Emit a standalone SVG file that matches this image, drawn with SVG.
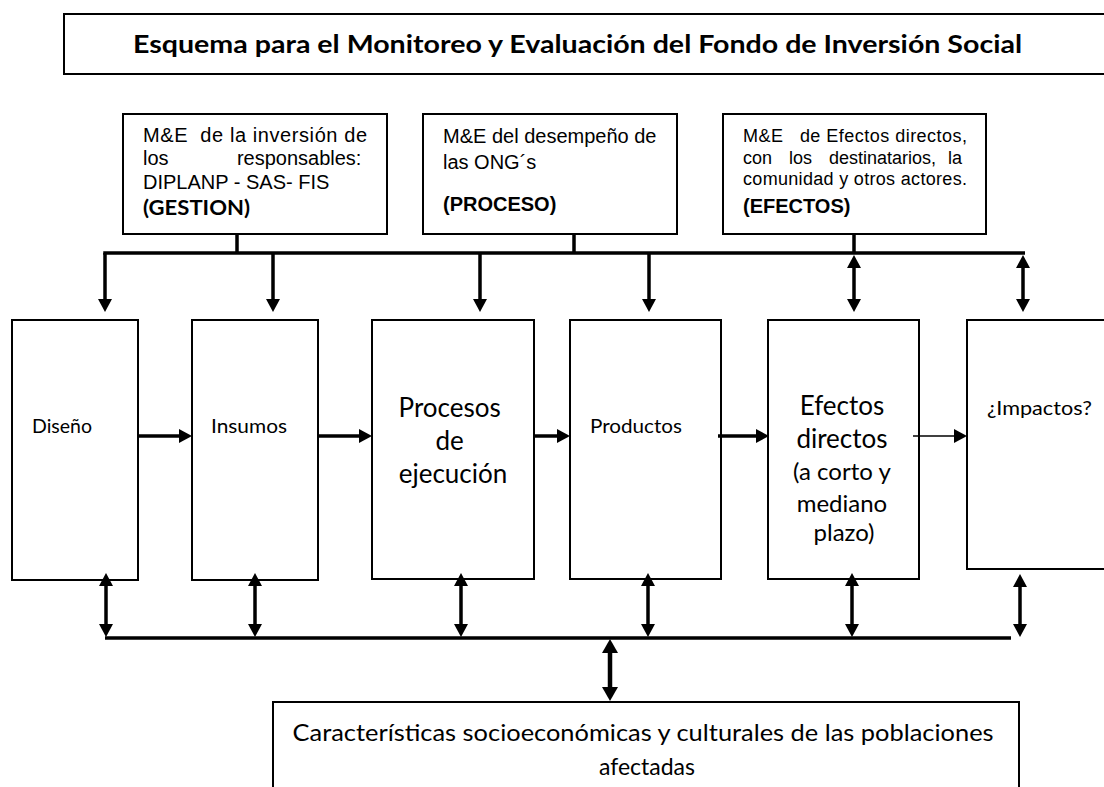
<svg xmlns="http://www.w3.org/2000/svg" width="1104" height="787" viewBox="0 0 1104 787">
<style>
  .box { fill: #fff; stroke: #000; stroke-width: 2; }
  .cal { font-family: Lato, "Open Sans", sans-serif; fill: #000; }
  .ar { font-family: "Liberation Sans", Arial, sans-serif; fill: #000; }
  .arb { font-family: "Liberation Sans", Arial, sans-serif; font-weight: bold; fill: #000; }
  .bus { stroke: #000; stroke-width: 3.5; fill: none; }
  .thick { stroke: #000; stroke-width: 3.5; fill: none; marker-end: url(#ah); }
  .bi { stroke: #000; stroke-width: 3.5; fill: none; marker-start: url(#ah); marker-end: url(#ah); }
  .thin { stroke: #000; stroke-width: 1.5; fill: none; marker-end: url(#ah); }
  .big { stroke: #000; stroke-width: 4.5; fill: none; marker-start: url(#ahb); marker-end: url(#ahb); }
</style>
<defs>
  <marker id="ah" viewBox="0 0 13 14" refX="3" refY="7" markerWidth="13" markerHeight="14" markerUnits="userSpaceOnUse" orient="auto-start-reverse">
    <path d="M0,0 L13,7 L0,14 z" fill="#000"/>
  </marker>
  <marker id="ahb" viewBox="0 0 14 16" refX="3" refY="8" markerWidth="14" markerHeight="16" markerUnits="userSpaceOnUse" orient="auto-start-reverse">
    <path d="M0,0 L14,8 L0,16 z" fill="#000"/>
  </marker>
</defs>
<rect width="1104" height="787" fill="#fff"/>

<g id="title">
  <rect class="box" x="64" y="14" width="1060" height="60"/>
  <text class="cal" x="133" y="53" font-size="24" font-weight="bold" textLength="889" lengthAdjust="spacingAndGlyphs">Esquema para el Monitoreo y Evaluación del Fondo de Inversión Social</text>
</g>

<g id="gestion">
  <rect class="box" x="123" y="114" width="264" height="120"/>
  <text class="ar" font-size="20">
    <tspan x="143" y="142" textLength="224" lengthAdjust="spacing">M&amp;E&#160; de la inversión de</tspan>
    <tspan x="143" y="165">los</tspan><tspan x="367" y="165" text-anchor="end">responsables:</tspan>
    <tspan x="143" y="189">DIPLANP - SAS- FIS</tspan>
  </text>
  <text class="cal" x="143" y="215" font-size="21" font-weight="bold" textLength="107" lengthAdjust="spacingAndGlyphs">(GESTION)</text>
</g>

<g id="proceso">
  <rect class="box" x="423" y="114" width="254" height="120"/>
  <text class="ar" font-size="20">
    <tspan x="443" y="143">M&amp;E del desempeño de</tspan>
    <tspan x="443" y="169">las ONG´s</tspan>
  </text>
  <text class="arb" x="443" y="211" font-size="20">(PROCESO)</text>
</g>

<g id="efectos-me">
  <rect class="box" x="723" y="114" width="263" height="120"/>
  <text class="ar" font-size="18">
    <tspan x="743" y="142" textLength="224" lengthAdjust="spacing">M&amp;E&#160;&#160; de Efectos directos,</tspan>
    <tspan x="743" y="164">con</tspan><tspan x="789" y="164">los</tspan><tspan x="829" y="164">destinatarios,</tspan><tspan x="967" y="164" text-anchor="end">la</tspan>
    <tspan x="743" y="185" textLength="224" lengthAdjust="spacing">comunidad y otros actores.</tspan>
  </text>
  <text class="arb" x="743" y="213" font-size="20">(EFECTOS)</text>
</g>

<g id="diseno">
  <rect class="box" x="12" y="320" width="126" height="260"/>
  <text class="cal" x="32" y="433" font-size="20" textLength="60" lengthAdjust="spacingAndGlyphs">Diseño</text>
</g>

<g id="insumos">
  <rect class="box" x="192" y="320" width="126" height="260"/>
  <text class="cal" x="211" y="433" font-size="20" textLength="76" lengthAdjust="spacingAndGlyphs">Insumos</text>
</g>

<g id="procesos">
  <rect class="box" x="372" y="320" width="162" height="259"/>
  <text class="cal" font-size="26" text-anchor="middle">
    <tspan x="453" y="417">Procesos</tspan>
    <tspan x="453" y="450">de</tspan>
    <tspan x="453" y="483">ejecución</tspan>
  </text>
</g>

<g id="productos">
  <rect class="box" x="570" y="320" width="151" height="259"/>
  <text class="cal" x="590" y="433" font-size="20" textLength="92" lengthAdjust="spacingAndGlyphs">Productos</text>
</g>

<g id="efectos">
  <rect class="box" x="768" y="320" width="151" height="259"/>
  <text class="cal" text-anchor="middle">
    <tspan x="844" y="415" font-size="26">Efectos</tspan>
    <tspan x="844" y="448" font-size="26">directos</tspan>
    <tspan x="844" y="480" font-size="24">(a corto y</tspan>
    <tspan x="844" y="512" font-size="24">mediano</tspan>
    <tspan x="844" y="541" font-size="24">plazo)</tspan>
  </text>
</g>

<g id="impactos">
  <rect class="box" x="967" y="320" width="150" height="249"/>
  <text class="cal" x="987" y="415" font-size="20" textLength="105" lengthAdjust="spacingAndGlyphs">¿Impactos?</text>
</g>

<g id="caracteristicas">
  <rect class="box" x="273" y="702" width="746" height="100"/>
  <text class="cal" font-size="23" text-anchor="middle">
    <tspan x="646" y="741" textLength="701" lengthAdjust="spacingAndGlyphs">Características socioeconómicas y culturales de las poblaciones</tspan>
    <tspan x="647" y="775">afectadas</tspan>
  </text>
</g>

<g id="connectors">
  <path class="bus" d="M237,234 V253 M574,234 V253 M854,234 V253"/>
  <path class="bus" d="M103.25,253 H1025"/>
  <line class="thick" x1="105" y1="253" x2="105" y2="302"/>
  <line class="thick" x1="273" y1="253" x2="273" y2="302"/>
  <line class="thick" x1="480" y1="253" x2="480" y2="302"/>
  <line class="thick" x1="649" y1="253" x2="649" y2="302"/>
  <line class="bi" x1="854" y1="265" x2="854" y2="302"/>
  <line class="bi" x1="1023" y1="265" x2="1023" y2="302"/>
  <line class="thick" x1="138" y1="436" x2="182" y2="436"/>
  <line class="thick" x1="318" y1="436" x2="362" y2="436"/>
  <line class="thick" x1="534" y1="436" x2="560" y2="436"/>
  <line class="thick" x1="718" y1="436" x2="759" y2="436"/>
  <line class="thin" x1="913" y1="436" x2="957" y2="436"/>
  <line class="bi" x1="106" y1="583" x2="106" y2="627"/>
  <line class="bi" x1="255" y1="583" x2="255" y2="627"/>
  <line class="bi" x1="461" y1="583" x2="461" y2="627"/>
  <line class="bi" x1="648" y1="583" x2="648" y2="627"/>
  <line class="bi" x1="852" y1="583" x2="852" y2="627"/>
  <line class="bi" x1="1020" y1="584" x2="1020" y2="627"/>
  <path class="bus" d="M105,638 H1011"/>
  <line class="big" x1="610" y1="650" x2="610" y2="690"/>
</g>
</svg>
